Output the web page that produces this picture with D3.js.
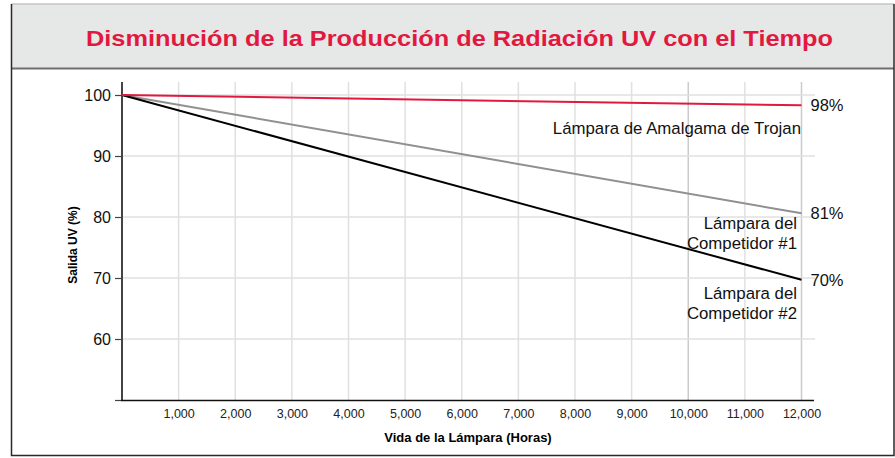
<!DOCTYPE html>
<html>
<head>
<meta charset="utf-8">
<script src="https://cdn.jsdelivr.net/npm/d3@7"></script>
<style>
  body { margin: 0; background: #fff; }
  svg { display: block; font-family: "Liberation Sans", Arial, sans-serif; }
</style>
</head>
<body>
<script>
'use strict';

// chart data
const hours = [0, 12000];
const trojanValues = [100, 98.3];
const competitor1Values = [100, 80.6];
const competitor2Values = [100, 69.7];
const endLabels = ["98%", "81%", "70%"];
const xTicks = [1000, 2000, 3000, 4000, 5000, 6000, 7000, 8000, 9000, 10000, 11000, 12000];
const yTicks = [50, 60, 70, 80, 90, 100];

const width = 895, height = 458;

let svg = d3.select('body').append('svg')
  .attr('width', width)
  .attr('height', height);

// header band and frame
svg.append('rect')
  .attr('x', 11.5).attr('y', 4)
  .attr('width', 882).attr('height', 64)
  .attr('fill', '#e6e7e7');
svg.append('line')
  .attr('x1', 11.5).attr('x2', 894).attr('y1', 4).attr('y2', 4)
  .attr('stroke', '#c4c4c4').attr('stroke-width', 1.5);
svg.append('line')
  .attr('x1', 11.5).attr('x2', 894).attr('y1', 68.5).attr('y2', 68.5)
  .attr('stroke', '#6e6e6e').attr('stroke-width', 2);
svg.append('path')
  .attr('d', 'M11.5,4 V455.5 H894 V4')
  .attr('fill', 'none')
  .attr('stroke', '#2a2a2a').attr('stroke-width', 1.5);

// title
svg.append('text')
  .attr('x', 86).attr('y', 46)
  .attr('textLength', 747)
  .attr('lengthAdjust', 'spacingAndGlyphs')
  .style('font-size', '22px')
  .style('font-weight', 'bold')
  .attr('fill', '#e2193f')
  .text('Disminución de la Producción de Radiación UV con el Tiempo');

// scales
let xScale = d3.scaleLinear().domain([0, 12000]).range([122, 801.5]);
let yScale = d3.scaleLinear().domain([50, 100]).range([400, 95]);

// grid lines
let grid = svg.append('g');
grid.selectAll('.vgrid')
  .data(xTicks)
  .enter()
  .append('line')
    .attr('x1', d => xScale(d)).attr('x2', d => xScale(d))
    .attr('y1', 82).attr('y2', 400)
    .attr('stroke', d => (d == 10000 || d == 12000) ? '#cbcbcb' : '#e0e0e0')
    .attr('stroke-width', 1.5);
grid.selectAll('.hgrid')
  .data(yTicks.filter(d => d > 50))
  .enter()
  .append('line')
    .attr('x1', 122).attr('x2', 815)
    .attr('y1', d => yScale(d)).attr('y2', d => yScale(d))
    .attr('stroke', '#e0e0e0')
    .attr('stroke-width', 1.5);

// y axis
let yAxis = d3.axisLeft(yScale).tickValues(yTicks).tickSize(7).tickPadding(4)
  .tickFormat(d => d == 50 ? '' : d);
let yG = svg.append('g')
  .attr('transform', 'translate(122, 0)')
  .call(yAxis);
yG.select('.domain').remove();
yG.selectAll('.tick line').attr('stroke', '#444').attr('stroke-width', 1.2);
yG.selectAll('.tick text')
  .style('font-size', '16px')
  .style('font-family', '"Liberation Sans", Arial, sans-serif')
  .attr('fill', '#111');
svg.append('line')
  .attr('x1', 122).attr('x2', 122).attr('y1', 82).attr('y2', 400.5)
  .attr('stroke', '#444').attr('stroke-width', 2);

// x axis
let xAxis = d3.axisBottom(xScale).tickValues(xTicks).tickSize(0).tickPadding(9)
  .tickFormat(d3.format(','));
let xG = svg.append('g')
  .attr('transform', 'translate(0, 400)')
  .call(xAxis);
xG.select('.domain').remove();
xG.selectAll('.tick text')
  .style('font-size', '12.5px')
  .style('font-family', '"Liberation Sans", Arial, sans-serif')
  .attr('fill', '#222');
svg.append('line')
  .attr('x1', 121).attr('x2', 814).attr('y1', 400.5).attr('y2', 400.5)
  .attr('stroke', '#111').attr('stroke-width', 1.5);

// axis titles
svg.append('text')
  .attr('transform', 'translate(77, 245)rotate(-90)')
  .attr('text-anchor', 'middle')
  .style('font-size', '12px')
  .style('font-weight', 'bold')
  .text('Salida UV (%)');
svg.append('text')
  .attr('x', 468).attr('y', 442)
  .attr('text-anchor', 'middle')
  .style('font-size', '13px')
  .style('font-weight', 'bold')
  .text('Vida de la Lámpara (Horas)');

// lines
let line = d3.line()
  .x(d => xScale(d[0]))
  .y(d => yScale(d[1]));

let series = [
  { values: competitor1Values, color: '#909090' },
  { values: competitor2Values, color: '#000000' },
  { values: trojanValues, color: '#e2193f' }
];
series.forEach(s => {
  svg.append('path')
    .datum(hours.map((h, i) => [h, s.values[i]]))
    .attr('d', line)
    .attr('fill', 'none')
    .attr('stroke', s.color)
    .attr('stroke-width', 2);
});

// end labels
let ends = [trojanValues, competitor1Values, competitor2Values];
svg.selectAll('.endLabel')
  .data(endLabels)
  .enter()
  .append('text')
    .attr('x', xScale(12000) + 9)
    .attr('y', (d, i) => yScale(ends[i][1]) + 6)
    .style('font-size', '16.5px')
    .attr('fill', '#111')
    .text(d => d);

// series names
function seriesName(lines, x, y) {
  let t = svg.append('text')
    .attr('text-anchor', 'end')
    .style('font-size', '16.8px')
    .attr('fill', '#111');
  lines.forEach((l, i) => {
    t.append('tspan').attr('x', x).attr('y', y + i * 19.5).text(l);
  });
}
seriesName(['Lámpara de Amalgama de Trojan'], 801, 134);
seriesName(['Lámpara del', 'Competidor #1'], 797, 229);
seriesName(['Lámpara del', 'Competidor #2'], 797, 299);
</script>
</body>
</html>
